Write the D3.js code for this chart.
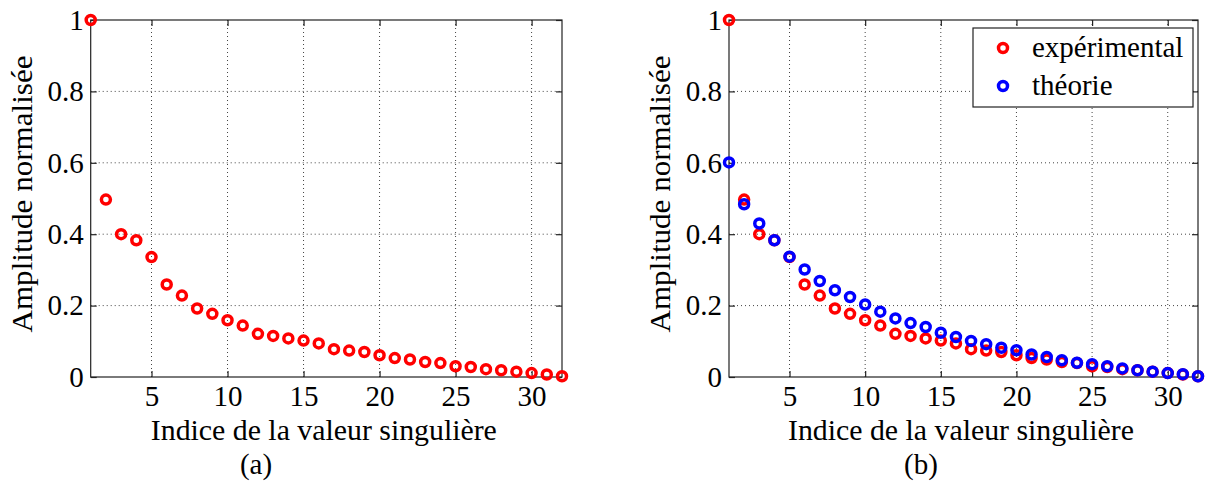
<!DOCTYPE html>
<html>
<head>
<meta charset="utf-8">
<script src="https://cdn.jsdelivr.net/npm/d3@7/dist/d3.min.js"></script>
<style>
  html, body { margin: 0; padding: 0; background: #fff; }
  svg { display: block; }
</style>
</head>
<body>
<svg id="chart" width="1208" height="482" font-family="'Liberation Serif', Tinos, 'Times New Roman', Times, 'DejaVu Serif', serif"></svg>
<script>
// ---- data ----
const indices = d3.range(1, 33);
const experimental = [1.000, 0.497, 0.400, 0.383, 0.336, 0.259, 0.228, 0.192, 0.177, 0.159,
  0.144, 0.121, 0.115, 0.108, 0.102, 0.094, 0.078, 0.074, 0.070, 0.061,
  0.053, 0.049, 0.042, 0.039, 0.030, 0.028, 0.022, 0.019, 0.015, 0.011, 0.007, 0.002];
const theorie = [0.601, 0.484, 0.430, 0.383, 0.337, 0.301, 0.269, 0.243, 0.224, 0.203,
  0.183, 0.164, 0.151, 0.140, 0.124, 0.112, 0.101, 0.092, 0.082, 0.075,
  0.063, 0.056, 0.047, 0.040, 0.036, 0.030, 0.024, 0.019, 0.015, 0.011, 0.008, 0.002];
const xTicks = [5, 10, 15, 20, 25, 30];
const yTicks = [0, 0.2, 0.4, 0.6, 0.8, 1];
const yTickLabels = ["0", "0.2", "0.4", "0.6", "0.8", "1"];
const xLabel = "Indice de la valeur singulière";
const yLabel = "Amplitude normalisée";
const seriesNames = ["expérimental", "théorie"];
const seriesColors = ["#ff0000", "#0000ff"];

const FONT = "'Liberation Serif', Tinos, 'Times New Roman', Times, 'DejaVu Serif', serif";
const FS = 29;
const svg = d3.select("#chart");
const plotTop = 20, plotBottom = 377;
const y = d3.scaleLinear().domain([0, 1]).range([plotBottom, plotTop]);

function txt(sel, size) {
  return sel.attr("font-family", FONT).attr("font-size", size).attr("fill", "#000");
}

function panel(x0, x1, series, caption, captionX, legend) {
  const x = d3.scaleLinear().domain([1, 32]).range([x0, x1]);
  const g = svg.append("g");

  // grid
  g.selectAll(".gx").data(xTicks).enter().append("line")
    .attr("x1", d => x(d)).attr("x2", d => x(d))
    .attr("y1", plotTop).attr("y2", plotBottom)
    .attr("stroke", "#444").attr("stroke-width", 1).attr("stroke-dasharray", "1,3");
  g.selectAll(".gy").data(yTicks.filter(v => v > 0 && v < 1)).enter().append("line")
    .attr("x1", x0).attr("x2", x1)
    .attr("y1", d => y(d)).attr("y2", d => y(d))
    .attr("stroke", "#444").attr("stroke-width", 1).attr("stroke-dasharray", "1,3");

  // box
  g.append("rect").attr("x", x0).attr("y", plotTop)
    .attr("width", x1 - x0).attr("height", plotBottom - plotTop)
    .attr("fill", "none").attr("stroke", "#222").attr("stroke-width", 1.2);

  // axes with inward ticks
  const tl = 6;
  const axB = d3.axisBottom(x).tickValues(xTicks).tickSize(-tl).tickPadding(8).tickFormat(d3.format("d"));
  const axT = d3.axisTop(x).tickValues(xTicks).tickSize(-tl).tickFormat("");
  const axL = d3.axisLeft(y).tickValues(yTicks).tickSize(-tl).tickPadding(7)
    .tickFormat((d, i) => yTickLabels[i]);
  const axR = d3.axisRight(y).tickValues(yTicks).tickSize(-tl).tickFormat("");
  [[axB, `translate(0,${plotBottom})`], [axT, `translate(0,${plotTop})`],
   [axL, `translate(${x0},0)`], [axR, `translate(${x1},0)`]].forEach(([ax, tr]) => {
    const a = g.append("g").attr("transform", tr).call(ax);
    a.attr("font-family", FONT).attr("font-size", FS);
    a.select(".domain").remove();
    a.selectAll(".tick line").attr("stroke", "#222").attr("stroke-width", 1.2);
    a.selectAll("text").attr("fill", "#000");
  });

  // labels
  txt(g.append("text"), FS).attr("x", (x0 + x1) / 2 - 2.5).attr("y", 440)
    .attr("text-anchor", "middle")
    .attr("textLength", 346).attr("lengthAdjust", "spacingAndGlyphs").text(xLabel);
  txt(g.append("text"), FS).attr("transform", `translate(${x0 - 59},${194}) rotate(-90)`)
    .attr("text-anchor", "middle")
    .attr("textLength", 277).attr("lengthAdjust", "spacingAndGlyphs").text(yLabel);
  txt(g.append("text"), FS).attr("x", captionX).attr("y", 474)
    .attr("text-anchor", "middle").text(caption);

  // markers
  series.forEach(s => {
    g.append("g").selectAll("circle").data(s.values).enter().append("circle")
      .attr("cx", (d, i) => x(indices[i])).attr("cy", d => y(d))
      .attr("r", 4.5).attr("fill", "none")
      .attr("stroke", s.color).attr("stroke-width", 3.5);
  });

  if (legend) {
    const lg = g.append("g");
    lg.append("rect").attr("x", 973).attr("y", 28).attr("width", 220).attr("height", 79)
      .attr("fill", "#fff").attr("stroke", "#222").attr("stroke-width", 1.2);
    series.forEach((s, i) => {
      const cy = 48 + i * 38;
      lg.append("circle").attr("cx", 1003).attr("cy", cy).attr("r", 4.5)
        .attr("fill", "none").attr("stroke", s.color).attr("stroke-width", 3.5);
      txt(lg.append("text"), FS).attr("x", 1032).attr("y", cy + 9).text(s.name);
    });
  }
}

panel(90.7, 562, [{ values: experimental, color: seriesColors[0], name: seriesNames[0] }], "(a)", 256, false);
panel(729, 1198, [
  { values: experimental, color: seriesColors[0], name: seriesNames[0] },
  { values: theorie, color: seriesColors[1], name: seriesNames[1] }
], "(b)", 921, true);
</script>
</body>
</html>
